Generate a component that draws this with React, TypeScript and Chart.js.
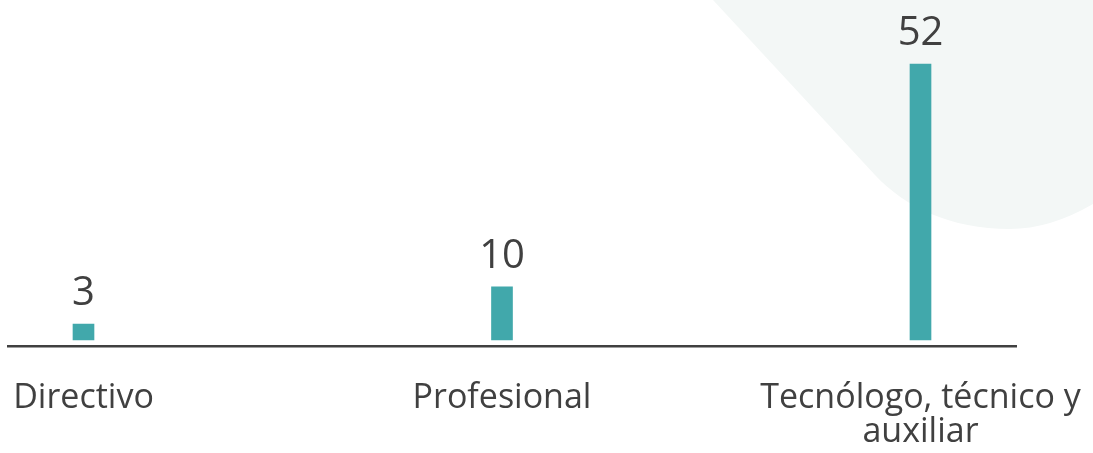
import React, { useEffect, useRef } from "react";
import { Chart, registerables } from "chart.js";

Chart.register(...registerables);

const categories = ["Directivo", "Profesional", "Tecnólogo, técnico y auxiliar"];
const tickLabels: (string | string[])[] = ["Directivo", "Profesional", ["Tecnólogo, técnico y", "auxiliar"]];
const values = [3, 10, 52];

const BAR_COLOR = "#41A8AB";
const TEXT_COLOR = "#404040";
const BLOB_COLOR = "#F3F7F6";
const FONT = "'Open Sans', 'DejaVu Sans', sans-serif";

const backgroundBlob = {
  id: "backgroundBlob",
  beforeDraw(chart: any) {
    const ctx = chart.ctx;
    ctx.save();
    ctx.fillStyle = BLOB_COLOR;
    ctx.beginPath();
    ctx.moveTo(713, 0);
    ctx.lineTo(875, 175);
    ctx.bezierCurveTo(905, 207, 950, 229, 1010, 229);
    ctx.quadraticCurveTo(1050, 229, 1093, 204);
    ctx.lineTo(1093, 0);
    ctx.closePath();
    ctx.fill();
    ctx.restore();
  },
};

const valueLabels = {
  id: "valueLabels",
  afterDatasetsDraw(chart: any) {
    const ctx = chart.ctx;
    const meta = chart.getDatasetMeta(0);
    ctx.save();
    ctx.font = `40px ${FONT}`;
    ctx.fillStyle = TEXT_COLOR;
    ctx.textAlign = "center";
    ctx.textBaseline = "alphabetic";
    meta.data.forEach((bar: any, i: number) => {
      ctx.fillText(String(values[i]), bar.x, bar.y - 19);
    });
    ctx.restore();
  },
};

export default function App() {
  const canvasRef = useRef<HTMLCanvasElement | null>(null);

  useEffect(() => {
    if (!canvasRef.current) return;
    const chart = new Chart(canvasRef.current, {
      type: "bar",
      data: {
        datasets: [
          {
            label: "Cantidad",
            data: values.map((v, i) => ({ x: i, y: v })),
            backgroundColor: BAR_COLOR,
            barThickness: 21,
            borderWidth: 0,
          },
        ],
      },
      options: {
        responsive: false,
        animation: false,
        layout: { padding: { left: 8, right: 77, top: 21.5, bottom: 0 } },
        plugins: {
          legend: { display: false },
          tooltip: { enabled: false },
          title: { display: false },
        },
        scales: {
          x: {
            type: "linear",
            offset: false,
            min: -0.1804,
            max: 2.2282,
            grid: { display: false, drawTicks: false, offset: false },
            border: { display: true, color: TEXT_COLOR, width: 2.5 },
            afterBuildTicks: (scale: any) => {
              scale.ticks = categories.map((_, i) => ({ value: i }));
            },
            afterFit: (scale: any) => {
              scale.height = 107;
              scale.paddingLeft = 0;
              scale.paddingRight = 0;
            },
            ticks: {
              autoSkip: false,
              maxRotation: 0,
              minRotation: 0,
              padding: 35,
              color: TEXT_COLOR,
              font: { family: FONT, size: 34, lineHeight: 1.0 },
              callback: (v: any) => tickLabels[Number(v)] ?? "",
            },
          },
          y: {
            display: false,
            min: -1.13,
            max: 60,
          },
        },
      },
      plugins: [backgroundBlob, valueLabels],
    });
    return () => chart.destroy();
  }, []);

  return (
    <div style={{ position: "absolute", left: 0, top: 0, width: 1093, height: 453, background: "#ffffff" }}>
      <canvas ref={canvasRef} width={1093} height={453} style={{ display: "block" }} />
    </div>
  );
}
